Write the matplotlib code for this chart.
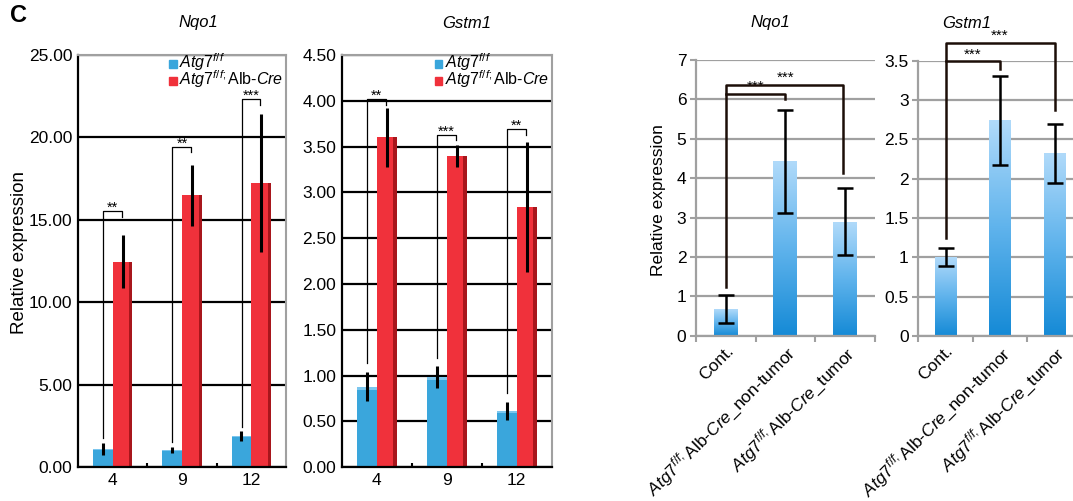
import numpy as np
import matplotlib
matplotlib.use("Agg")
import matplotlib.pyplot as plt
from matplotlib.patches import Rectangle
from matplotlib.colors import LinearSegmentedColormap
from matplotlib.ticker import FormatStrFormatter

plt.rcParams['font.family'] = ['Liberation Sans', 'DejaVu Sans']
plt.rcParams['mathtext.fontset'] = 'custom'
plt.rcParams['mathtext.rm'] = 'Liberation Sans'
plt.rcParams['mathtext.it'] = 'Liberation Sans:italic'
plt.rcParams['mathtext.bf'] = 'Liberation Sans:bold'

### datos: edad (semanas), Atg7 f/f vs Atg7 f/f;Alb-Cre
weeks = ['4', '9', '12']
nqo1_ctrl = [1.09, 1.03, 1.90]
nqo1_ctrl_err = [0.37, 0.19, 0.30]
nqo1_ko = [12.46, 16.50, 17.25]
nqo1_ko_err = [1.60, 1.85, 4.20]
gstm1_ctrl = [0.88, 0.99, 0.615]
gstm1_ctrl_err = [0.16, 0.12, 0.095]
gstm1_ko = [3.60, 3.40, 2.84]
gstm1_ko_err = [0.32, 0.12, 0.71]
sig_nqo1 = ['**', '**', '***']
sig_gstm1 = ['**', '***', '**']
# brackets: pie izquierdo, altura, pie derecho
br_nqo1 = [[1.75, 15.55, 15.17], [1.53, 19.43, 19.10], [2.45, 22.30, 21.96]]
br_gstm1 = [[1.135, 4.02, 3.95], [1.19, 3.63, 3.57], [0.81, 3.69, 3.63]]
legend_labels = [r'$\mathit{Atg7}^{\mathit{f/f}}$',
                 r'$\mathit{Atg7}^{\mathit{f/f;}}$Alb-$\mathit{Cre}$']

### datos: tejido
tissues = ['Cont.',
           r'$\mathit{Atg7}^{\mathit{f/f;}}$Alb-$\mathit{Cre}$_non-tumor',
           r'$\mathit{Atg7}^{\mathit{f/f;}}$Alb-$\mathit{Cre}$_tumor']
nqo1_tis = [0.68, 4.42, 2.89]
nqo1_tis_err = [0.36, 1.31, 0.85]
gstm1_tis = [1.00, 2.74, 2.32]
gstm1_tis_err = [0.115, 0.565, 0.38]
# [pie, tope externo, pie derecho externo, nivel interno, pie interno]
br_nqo1_tis = [1.24, 6.36, 4.14, 6.13, 6.00]
br_gstm1_tis = [1.24, 3.73, 2.87, 3.49, 3.40]

W, H = 1073, 501
fig = plt.figure(figsize=(W / 100, H / 100), dpi=100)
renderer = fig.canvas.get_renderer()

def rect(x0, x1, yt, yb):
    return [x0 / W, 1 - yb / H, (x1 - x0) / W, (yb - yt) / H]

BLUE = '#3aa6dc'
RED = '#f0313b'

def panel_left(r, ctrl, cerr, ko, kerr, ymax, ystep, sig, br, title, tx):
    ax = fig.add_axes(r)
    x = np.arange(len(weeks))
    w = 0.285
    ax.set_axisbelow(True)
    ax.bar(x - w / 2, ctrl, w, color=BLUE, zorder=2)
    ax.bar(x - w / 2, [c * 0.04 for c in ctrl], w, bottom=[c * 0.96 for c in ctrl],
           color='#7cc6ee', zorder=2)
    ax.bar(x + w / 2, ko, w, color=RED, zorder=2)
    ax.bar(x + w / 2 + w * 0.42, ko, w * 0.16, color='#a8161c', zorder=2)
    ax.errorbar(x - w / 2, ctrl, yerr=cerr, fmt='none', ecolor='black', elinewidth=2.2, zorder=3)
    ax.errorbar(x + w / 2, ko, yerr=kerr, fmt='none', ecolor='black', elinewidth=2.2, zorder=3)
    for i in range(len(x)):
        lb, top, rb = br[i]
        ax.plot([x[i] - 0.14, x[i] - 0.14, x[i] + 0.13, x[i] + 0.13], [lb, top, top, rb],
                color='black', lw=0.9, zorder=4)
        ax.annotate(sig[i], (x[i], top), xytext=(0, -0.5), textcoords='offset points',
                    ha='center', va='baseline', fontsize=10.5)
    ax.set_xlim(-0.5, 2.5)
    ax.set_ylim(0, ymax)
    ax.set_yticks(np.arange(0, ymax + 1e-9, ystep))
    ax.yaxis.set_major_formatter(FormatStrFormatter('%.2f'))
    ax.grid(axis='y', color='black', lw=1.6)
    ax.tick_params(axis='y', length=0, labelsize=12.5, pad=4)
    ax.set_xticks(x, weeks)
    ax.tick_params(axis='x', length=0, labelsize=12.5, pad=4)
    ax.set_xticks([0.5, 1.5], minor=True)
    ax.tick_params(axis='x', which='minor', direction='in', length=3, width=1.5, color='black')
    for s in ['top', 'right']:
        ax.spines[s].set_color('#a0a0a0')
        ax.spines[s].set_linewidth(1.5)
    for s in ['left', 'bottom']:
        ax.spines[s].set_color('black')
        ax.spines[s].set_linewidth(1.6)
    # leyenda a mano: un solo texto de dos lineas (baseline = ultima linea)
    axw, axh = r[2] * W, r[3] * H
    y_second = 0.927
    leg = ax.text(0, y_second, '\n'.join(legend_labels), transform=ax.transAxes, ha='left',
                  va='baseline', fontsize=11.5, linespacing=0.72, zorder=5)
    tmp = ax.text(0, y_second, legend_labels[0], transform=ax.transAxes, ha='left',
                  va='baseline', fontsize=11.5)
    bb = leg.get_window_extent(renderer)
    shift = (bb.y1 - tmp.get_window_extent(renderer).y1) / axh
    tmp.remove()
    x_left = 0.988 - bb.width / axw
    leg.set_x(x_left)
    for col, yb in zip([BLUE, RED], [y_second + shift, y_second]):
        ax.add_patch(Rectangle((x_left - 10 / axw, yb), 7.5 / axw, 8 / axh,
                               transform=ax.transAxes, color=col, clip_on=False, zorder=5))
    fig.text(tx / W, 1 - 23 / H, title, style='italic', fontsize=12, ha='center', va='center')
    return ax

def panel_right(r, vals, err, ymax, ystep, ylabels, br, outer_x, title, tx):
    ax = fig.add_axes(r)
    x = np.arange(len(tissues))
    w = 0.4
    ax.set_axisbelow(True)
    cmap = LinearSegmentedColormap.from_list('xl', ['#158ad6', '#5fb3ec', '#b0dafa'])
    grad = np.linspace(1, 0, 200).reshape(-1, 1)
    bars = ax.bar(x, vals, w, color='none', zorder=2)
    for b in bars:
        ax.imshow(grad, extent=[b.get_x(), b.get_x() + b.get_width(), 0, b.get_height()],
                  aspect='auto', cmap=cmap, origin='upper', zorder=2)
    ax.errorbar(x, vals, yerr=err, fmt='none', ecolor='black', elinewidth=1.8,
                capsize=6, capthick=1.8, zorder=3)
    lb, otop, orb, itop, irb = br
    ax.plot([0, 0, outer_x, outer_x], [lb, otop, otop, orb], color='#1c0e08', lw=1.8,
            zorder=4, clip_on=False)
    ax.plot([0, 1, 1], [itop, itop, irb], color='#1c0e08', lw=1.8, zorder=4, clip_on=False)
    ax.annotate('***', (0.5, itop), xytext=(0, 0), textcoords='offset points',
                ha='center', va='bottom', fontsize=11, annotation_clip=False)
    ax.annotate('***', (1.0, otop), xytext=(0, 0), textcoords='offset points',
                ha='center', va='bottom', fontsize=11, annotation_clip=False)
    ax.set_xlim(-0.5, 2.5)
    ax.set_ylim(0, ymax)
    ax.set_yticks(np.arange(0, ymax + 1e-9, ystep), ylabels)
    ax.grid(axis='y', color='#a0a0a0', lw=1.6)
    ax.tick_params(axis='y', length=4, width=1.5, color='#a0a0a0', labelsize=12.5, pad=3)
    ax.set_xticks(x, tissues, rotation=45, ha='right', rotation_mode='anchor')
    ax.tick_params(axis='x', length=0, labelsize=12.5, pad=5)
    ax.set_xticks([-0.5, 0.5, 1.5, 2.5], minor=True)
    ax.tick_params(axis='x', which='minor', length=4, width=1.5, color='#a0a0a0')
    for s in ['top', 'right']:
        ax.spines[s].set_visible(False)
    for s in ['left', 'bottom']:
        ax.spines[s].set_color('#a0a0a0')
        ax.spines[s].set_linewidth(1.6)
    fig.text(tx / W, 1 - 23 / H, title, style='italic', fontsize=12, ha='center', va='center')
    return ax

panel_left(rect(78, 286, 55, 467), nqo1_ctrl, nqo1_ctrl_err, nqo1_ko, nqo1_ko_err,
           25, 5, sig_nqo1, br_nqo1, 'Nqo1', 198)
panel_left(rect(341.7, 551.7, 55, 467.3), gstm1_ctrl, gstm1_ctrl_err, gstm1_ko, gstm1_ko_err,
           4.5, 0.5, sig_gstm1, br_gstm1, 'Gstm1', 467)
panel_right(rect(696, 874.5, 60, 335.7), nqo1_tis, nqo1_tis_err, 7, 1,
            [str(i) for i in range(8)], br_nqo1_tis, 1.97, 'Nqo1', 770)
panel_right(rect(918.3, 1081.8, 60.7, 336), gstm1_tis, gstm1_tis_err, 3.5, 0.5,
            ['0', '0.5', '1', '1.5', '2', '2.5', '3', '3.5'], br_gstm1_tis, 2.0, 'Gstm1', 967)

fig.text(20 / W, 1 - 252 / H, 'Relative expression', rotation=90, fontsize=13.5,
         ha='center', va='center')
fig.text(658 / W, 1 - 200 / H, 'Relative expression', rotation=90, fontsize=12.5,
         ha='center', va='center')
fig.text(10 / W, 1 - 4 / H, 'C', fontsize=17, weight='bold', ha='left', va='top')

fig.savefig('out.png', dpi=100)
